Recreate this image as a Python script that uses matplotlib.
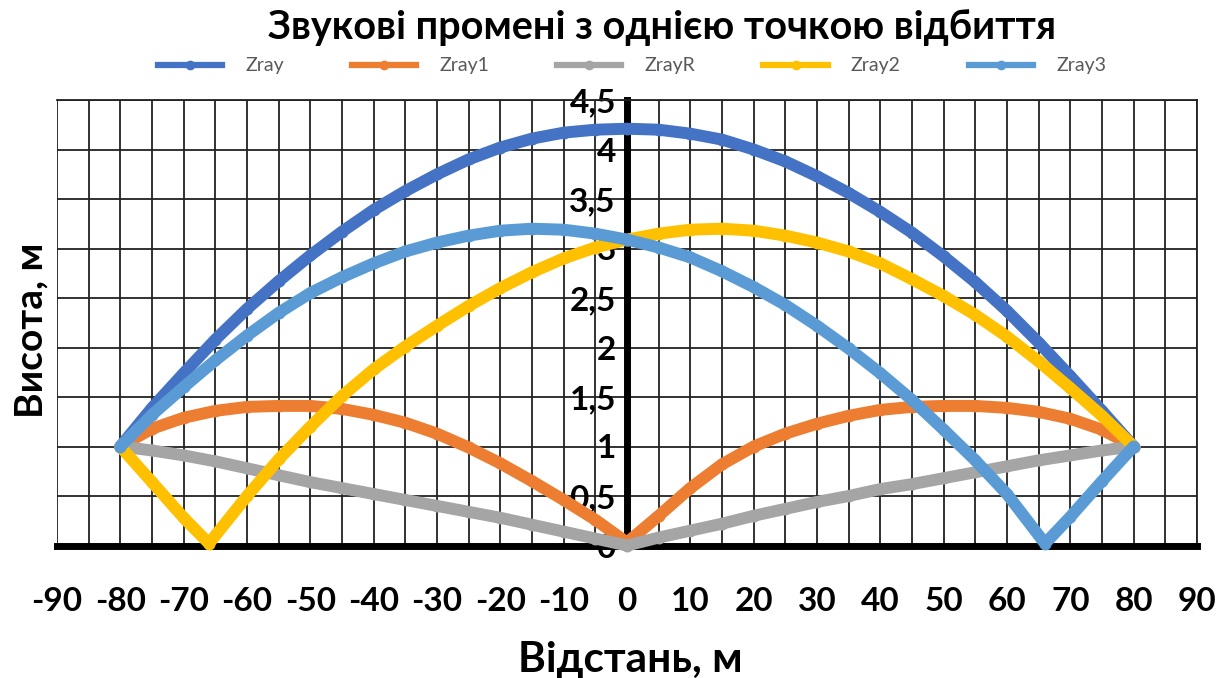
import matplotlib
matplotlib.use("Agg")
import matplotlib.pyplot as plt
from matplotlib.lines import Line2D
from matplotlib.ticker import MultipleLocator, FuncFormatter

plt.rcParams['font.family'] = ['Lato', 'DejaVu Sans']

# Horizontal distance (m) of the sampled points
dist = [-80, -75, -70, -65, -60, -55, -50, -45, -40, -35, -30, -25, -20, -15, -10, -5,
        0, 5, 10, 15, 20, 25, 30, 35, 40, 45, 50, 55, 60, 65, 70, 75, 80]

# Direct ray
zray = [1.0, 1.39, 1.74, 2.08, 2.39, 2.67, 2.93, 3.17, 3.39, 3.58, 3.75, 3.90, 4.02, 4.11, 4.17, 4.20,
        4.21, 4.20, 4.16, 4.10, 4.00, 3.88, 3.73, 3.56, 3.37, 3.16, 2.92, 2.66, 2.37, 2.05, 1.71, 1.36, 1.0]

# Ray reflected at the centre point
zray1 = [1.0, 1.18, 1.29, 1.36, 1.40, 1.41, 1.41, 1.38, 1.32, 1.24, 1.13, 0.99, 0.83, 0.65, 0.46, 0.26,
         0.03, 0.30, 0.58, 0.82, 1.00, 1.13, 1.23, 1.31, 1.37, 1.40, 1.41, 1.41, 1.39, 1.35, 1.28, 1.17, 1.0]

# Straight reflected path
zray_r = [1.0, 0.96, 0.91, 0.85, 0.78, 0.71, 0.64, 0.58, 0.52, 0.46, 0.40, 0.34, 0.28, 0.21, 0.14, 0.07,
          0.0, 0.08, 0.15, 0.22, 0.30, 0.37, 0.44, 0.50, 0.57, 0.62, 0.68, 0.74, 0.80, 0.86, 0.91, 0.96, 1.0]

# Ray reflected near the source
dist2 = [-80, -75, -70, -66, -60, -55, -50, -45, -40, -35, -30, -25, -20, -15, -10, -5,
         0, 5, 10, 15, 20, 25, 30, 35, 40, 45, 50, 55, 60, 65, 70, 75, 80]
zray2 = [1.0, 0.64, 0.28, 0.02, 0.50, 0.87, 1.20, 1.51, 1.78, 2.01, 2.22, 2.42, 2.60, 2.76, 2.90, 3.01,
         3.09, 3.15, 3.19, 3.20, 3.18, 3.13, 3.06, 2.97, 2.85, 2.69, 2.52, 2.33, 2.11, 1.86, 1.59, 1.31, 1.0]

# Ray reflected near the receiver
dist3 = [-80, -75, -70, -65, -60, -55, -50, -45, -40, -35, -30, -25, -20, -15, -10, -5,
         0, 5, 10, 15, 20, 25, 30, 35, 40, 45, 50, 55, 60, 66, 70, 75, 80]
zray3 = [1.0, 1.32, 1.60, 1.87, 2.12, 2.35, 2.55, 2.71, 2.85, 2.97, 3.06, 3.13, 3.18, 3.20, 3.19, 3.15,
         3.09, 3.01, 2.91, 2.77, 2.61, 2.43, 2.22, 1.99, 1.74, 1.47, 1.17, 0.86, 0.52, 0.02, 0.29, 0.65, 1.0]

series = [
    ("Zray", dist, zray, "#4472C4"),
    ("Zray1", dist, zray1, "#ED7D31"),
    ("ZrayR", dist, zray_r, "#A5A5A5"),
    ("Zray2", dist2, zray2, "#FFC000"),
    ("Zray3", dist3, zray3, "#5B9BD5"),
]

W, H = 1228, 678
fig = plt.figure(figsize=(W / 100, H / 100), dpi=100)
fig.patch.set_facecolor("white")
ax = fig.add_axes([57 / W, 1 - 545.5 / H, (1197 - 57) / W, (545.5 - 100) / H])

grid_c = "#222222"
for name, xs, ys, col in series:
    ax.plot(xs, ys, color=col, lw=8.6, marker="o", ms=8.6, mec="none",
            solid_capstyle="round", solid_joinstyle="round", zorder=3, clip_on=False)

ax.set_xlim(-90, 90)
ax.set_ylim(0, 4.5)
ax.xaxis.set_major_locator(MultipleLocator(10))
ax.xaxis.set_minor_locator(MultipleLocator(5))
ax.yaxis.set_major_locator(MultipleLocator(0.5))
ax.yaxis.set_major_formatter(FuncFormatter(lambda v, _: f"{v:g}".replace(".", ",")))
ax.xaxis.set_major_formatter(FuncFormatter(lambda v, _: f"{v:g}"))
ax.grid(which="both", axis="x", color=grid_c, lw=1.3)
ax.grid(which="major", axis="y", color=grid_c, lw=1.3)
ax.set_axisbelow(True)

ax.spines["left"].set_position(("data", 0))
ax.spines["left"].set_linewidth(5)
ax.spines["left"].set_color("black")
ax.spines["bottom"].set_linewidth(5)
ax.spines["bottom"].set_color("black")
for s in ("top", "right"):
    ax.spines[s].set_linewidth(1.3)
    ax.spines[s].set_color(grid_c)

ax.tick_params(axis="both", which="both", length=0)
ax.tick_params(axis="x", pad=30, labelsize=24)
ax.tick_params(axis="y", pad=8, labelsize=24)
for lab in ax.get_xticklabels() + ax.get_yticklabels():
    lab.set_fontweight("bold")

fig.text(662 / W, 1 - 28 / H, "Звукові промені з однією точкою відбиття",
         ha="center", va="center", fontsize=28.5, fontweight="bold")
fig.text(630 / W, 1 - 660 / H, "Відстань, м", ha="center", va="center",
         fontsize=30.5, fontweight="bold")
fig.text(31 / W, 1 - 330 / H, "Висота, м", ha="center", va="center",
         rotation=90, fontsize=28, fontweight="bold")

handles = [Line2D([], [], color=c, lw=4.5, marker="o", ms=7, mec="none") for _, _, _, c in series]
labels = [n for n, _, _, _ in series]
fig.legend(handles, labels, loc="center", bbox_to_anchor=(632 / W, 1 - 66 / H), ncol=5,
           frameon=False, fontsize=14, labelcolor="#595959", handlelength=3.3,
           handletextpad=1.2, columnspacing=3.5)

fig.savefig("out.png", dpi=100)
